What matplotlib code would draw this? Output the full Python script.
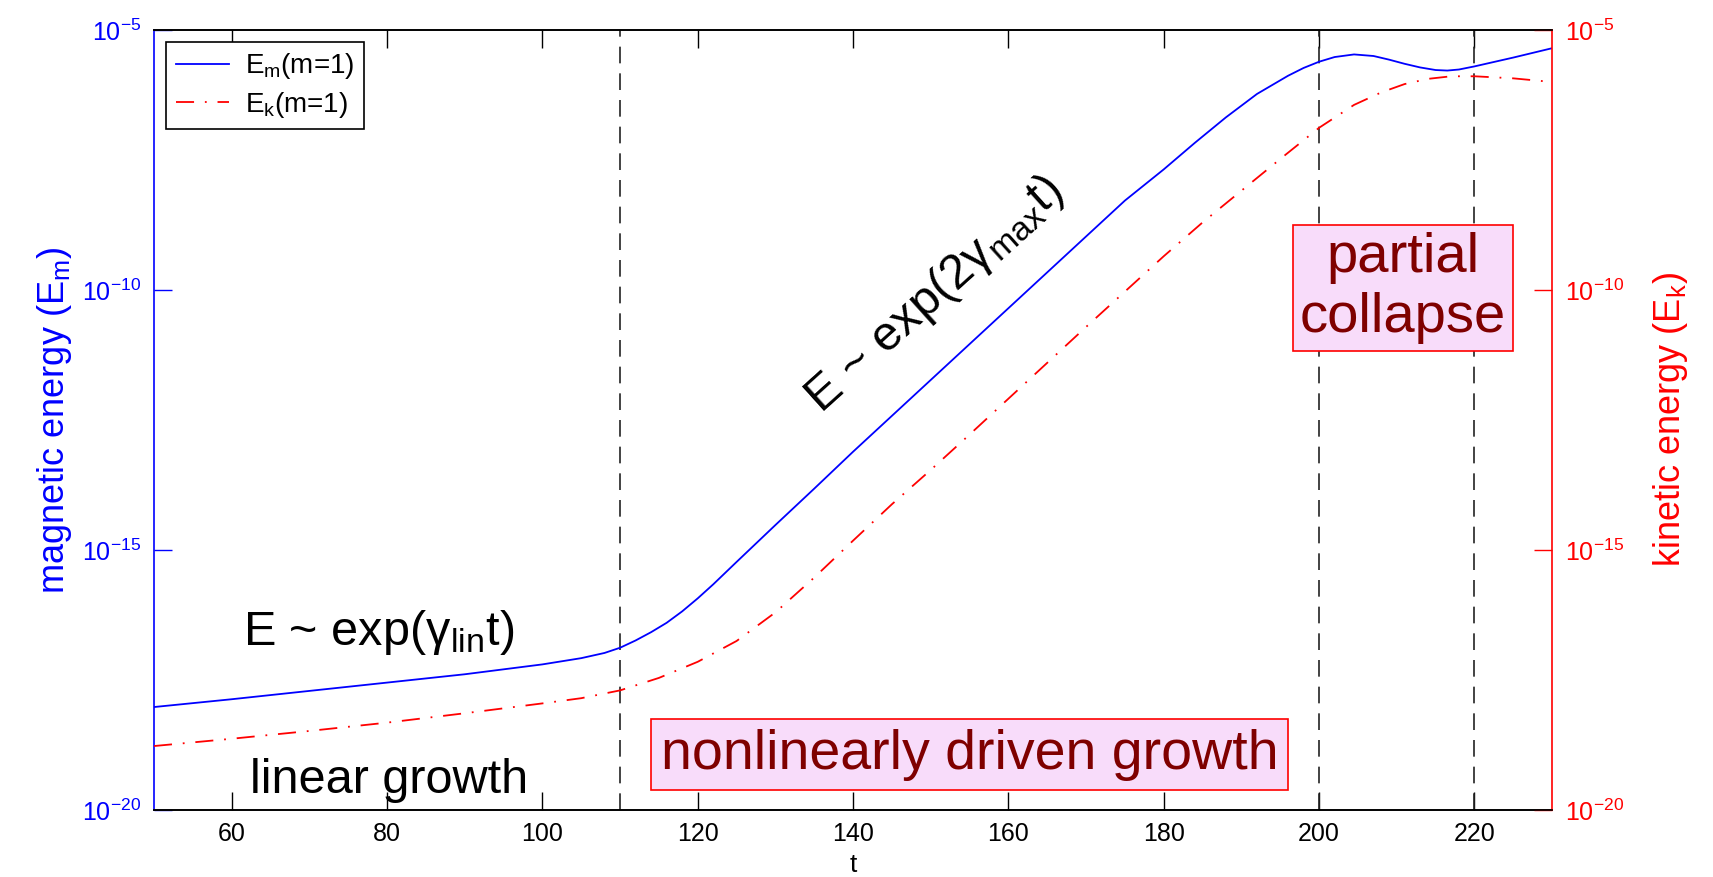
import matplotlib
matplotlib.use("Agg")
import matplotlib.pyplot as plt
from matplotlib.ticker import FixedLocator, FixedFormatter, NullLocator
import numpy as np

plt.rcParams["font.family"] = ["Liberation Sans", "DejaVu Sans"]
plt.rcParams["mathtext.fontset"] = "custom"
plt.rcParams["mathtext.rm"] = "Liberation Sans"
plt.rcParams["mathtext.it"] = "Liberation Sans:italic"
plt.rcParams["mathtext.default"] = "regular"

# m=1 magnetic energy, log10(E_m) against t
t_mag = [50, 60, 70, 80, 90, 100, 105, 108, 110, 112, 114, 116, 118, 120, 122,
         125, 130, 135, 140, 145, 150, 155, 160, 165, 170, 175, 180, 184, 188,
         192, 196, 198, 200, 202, 204.5, 207, 209, 211, 213, 215, 216.5, 218,
         220, 225, 230]
log_em = [-18.02, -17.87, -17.71, -17.55, -17.39, -17.20, -17.08, -16.98, -16.88,
          -16.74, -16.58, -16.40, -16.18, -15.93, -15.66, -15.23, -14.52, -13.82,
          -13.11, -12.42, -11.73, -11.04, -10.35, -9.66, -8.97, -8.28, -7.68,
          -7.17, -6.68, -6.23, -5.88, -5.73, -5.61, -5.52, -5.47, -5.50, -5.57,
          -5.65, -5.72, -5.77, -5.78, -5.76, -5.70, -5.53, -5.35]

# m=1 kinetic energy, log10(E_k) against t
t_kin = [50, 60, 70, 80, 90, 100, 105, 110, 115, 120, 125, 130, 135, 140, 145,
         150, 155, 160, 165, 170, 175, 180, 185, 190, 195, 200, 204.5, 208, 211,
         214, 217, 220, 225, 230]
log_ek = [-18.77, -18.63, -18.48, -18.32, -18.14, -17.95, -17.85, -17.70, -17.46,
          -17.15, -16.75, -16.20, -15.53, -14.82, -14.12, -13.46, -12.78, -12.09,
          -11.40, -10.71, -10.03, -9.35, -8.70, -8.09, -7.48, -6.88, -6.44, -6.20,
          -6.04, -5.94, -5.89, -5.89, -5.93, -6.00]

phase_bounds = [110, 200, 220]
x_ticks = [60, 80, 100, 120, 140, 160, 180, 200, 220]
y_ticks = [1e-20, 1e-15, 1e-10, 1e-5]
y_ticklabels = [r"$10^{-20}$", r"$10^{-15}$", r"$10^{-10}$", r"$10^{-5}$"]

BLUE = (0, 0, 1)
RED = (1, 0, 0)
DARKRED = "#7f0000"
BOXFACE = "#f8dcfa"

fig = plt.figure(figsize=(17.13, 8.77), dpi=100)
ax = fig.add_axes([0.0899, 0.0764, 0.8162, 0.8894])
ax2 = ax.twinx()

for a in (ax, ax2):
    a.set_yscale("log")
    a.set_ylim(1e-20, 1e-5)
    a.yaxis.set_major_locator(FixedLocator(y_ticks))
    a.yaxis.set_major_formatter(FixedFormatter(y_ticklabels))
    a.yaxis.set_minor_locator(NullLocator())
ax.set_xlim(50, 230)
ax.set_xticks(x_ticks)

for tb in phase_bounds:
    ax.axvline(tb, color="#222222", lw=1.2, dashes=(10, 6))

l1, = ax.plot(t_mag, 10 ** np.array(log_em), color=BLUE, lw=1.3)
l2, = ax2.plot(t_kin, 10 ** np.array(log_ek), color=RED, lw=1.3,
               dashes=(10, 6, 1, 6))

# axis colours
ax.spines["left"].set_color(BLUE)
ax.spines["right"].set_visible(False)
ax2.spines["left"].set_visible(False)
ax2.spines["right"].set_color(RED)
for a in (ax, ax2):
    for s in a.spines.values():
        s.set_linewidth(1.2)

ax.tick_params(axis="x", direction="in", top=True, length=13, width=1,
               labelsize=18, pad=9)
ax.tick_params(axis="y", direction="in", length=13, width=1, colors=BLUE,
               labelsize=18, pad=9)
ax2.tick_params(axis="y", direction="in", length=13, width=1, colors=RED,
                labelsize=18, pad=9)

ax.set_xlabel("t", fontsize=19, labelpad=5)
ax.set_ylabel("magnetic energy (E$_m$)", fontsize=26, color=BLUE, labelpad=6)
ax2.set_ylabel("kinetic energy (E$_k$)", fontsize=26, color=RED, labelpad=20)

leg = ax2.legend([l1, l2], ["E$_m$(m=1)", "E$_k$(m=1)"], loc="upper left",
                 bbox_to_anchor=(0.0086, 0.985), borderaxespad=0,
                 fancybox=False, framealpha=1, edgecolor="black",
                 fontsize=20, handlelength=1.9, handletextpad=0.6,
                 labelspacing=0.3, borderpad=0.35)
leg.get_frame().set_linewidth(1.2)

# annotations
ax2.text(61.4, 10 ** -16.82, "E ~ exp(γ$_{lin}$t)", fontsize=35,
         ha="left", va="baseline")
ax2.text(80.3, 10 ** -19.67, "linear growth", fontsize=35,
         ha="center", va="baseline")
ax2.text(150.5, 10 ** -10.1, "E ~ exp(2γ$_{max}$t)", fontsize=35,
         rotation=42, rotation_mode="anchor", ha="center", va="center")
ax2.text(155.0, 10 ** -18.94, "nonlinearly driven growth", fontsize=40,
         color=DARKRED, ha="center", va="center",
         bbox=dict(boxstyle="square,pad=0.17", fc=BOXFACE, ec=RED, lw=1.2))
ax2.text(210.8, 10 ** -9.96, "partial\ncollapse", fontsize=40.5,
         color=DARKRED, ha="center", va="center", multialignment="center",
         linespacing=1.2,
         bbox=dict(boxstyle="square,pad=0.12", fc=BOXFACE, ec=RED, lw=1.2))

fig.savefig("out.png", dpi=100)
